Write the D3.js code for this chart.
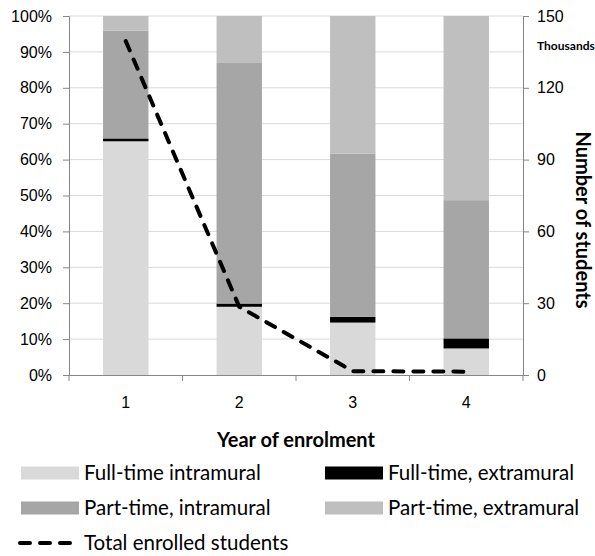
<!DOCTYPE html>
<html>
<head>
<meta charset="utf-8">
<script src="https://cdn.jsdelivr.net/npm/d3@7.9.0/dist/d3.min.js"></script>
<style>
  body { margin: 0; background: #fff; }
  svg { display: block; font-family: Lato, "Open Sans", sans-serif; }
  .axis path, .axis line { stroke: #868686; }
  .axis text { fill: #000; font-size: 16px; }
</style>
</head>
<body>
<div id="chart"></div>
<script>
// Data
const years = ['1', '2', '3', '4'];
const seriesNames = ['Full-time intramural', 'Full-time, extramural', 'Part-time, intramural', 'Part-time, extramural'];
const fullTimeIntra = [65.1, 19.0, 14.6, 7.4];
const fullTimeExtra = [0.8, 0.9, 1.6, 2.8];
const partTimeIntra = [30.0, 67.2, 45.5, 38.5];
const partTimeExtra = [4.1, 12.9, 38.3, 51.3];
const totalStudents = [139.5, 28.5, 1.6, 1.4]; // thousands
const pctTicks = [0, 10, 20, 30, 40, 50, 60, 70, 80, 90, 100];
const countTicks = [0, 30, 60, 90, 120, 150];

const colors = ['#d9d9d9', '#000000', '#a6a6a6', '#bfbfbf'];

const W = 595, H = 556;
const margin = { top: 16, right: 72, bottom: 181, left: 69 };
const width = W - margin.left - margin.right;
const height = H - margin.top - margin.bottom;

const svg = d3.select('#chart').append('svg')
  .attr('width', W)
  .attr('height', H);

const g = svg.append('g')
  .attr('transform', `translate(${margin.left},${margin.top})`);

const x = d3.scaleBand()
  .domain(years)
  .range([0, width])
  .paddingInner(0.6)
  .paddingOuter(0.3);

const yPct = d3.scaleLinear().domain([0, 100]).range([height, 0]);
const yCount = d3.scaleLinear().domain([0, 150]).range([height, 0]);

// Gridlines
g.append('g')
  .selectAll('line')
  .data(pctTicks.filter(d => d > 0))
  .join('line')
  .attr('x1', 0)
  .attr('x2', width)
  .attr('y1', d => yPct(d))
  .attr('y2', d => yPct(d))
  .attr('stroke', '#d9d9d9')
  .attr('stroke-width', 1);

// Stacked bars
const rows = years.map((yr, i) => ({
  year: yr,
  s0: fullTimeIntra[i],
  s1: fullTimeExtra[i],
  s2: partTimeIntra[i],
  s3: partTimeExtra[i]
}));
const stack = d3.stack().keys(['s0', 's1', 's2', 's3'])(rows);

g.append('g')
  .selectAll('g')
  .data(stack)
  .join('g')
  .attr('fill', (d, i) => colors[i])
  .selectAll('rect')
  .data(d => d)
  .join('rect')
  .attr('x', d => x(d.data.year))
  .attr('width', x.bandwidth())
  .attr('y', d => yPct(d[1]))
  .attr('height', d => yPct(d[0]) - yPct(d[1]));

// Left axis
g.append('g')
  .attr('class', 'axis')
  .call(d3.axisLeft(yPct).tickValues(pctTicks).tickSize(6).tickPadding(11).tickFormat(d => d + '%'))
  .call(a => a.select('.domain').attr('d', `M-6,0.5H0.5V${height}`));

// Right axis
g.append('g')
  .attr('class', 'axis')
  .attr('transform', `translate(${width},0)`)
  .call(d3.axisRight(yCount).tickValues(countTicks).tickSize(6).tickPadding(8))
  .call(a => a.select('.domain').attr('d', `M6,0.5H0.5V${height}`));

// Bottom axis: labels at category centres, ticks at boundaries
const xAxis = g.append('g')
  .attr('class', 'axis')
  .attr('transform', `translate(0,${height})`)
  .call(d3.axisBottom(x).tickSize(0).tickPadding(22));
xAxis.select('.domain').attr('d', `M0,0.5H${width}`);
const boundaries = years.map(yr => x(yr) - x.step() * x.paddingInner() / 2).concat([width]);
xAxis.selectAll('.boundary')
  .data(boundaries)
  .join('line')
  .attr('class', 'boundary')
  .attr('x1', d => d).attr('x2', d => d)
  .attr('y1', 0).attr('y2', 6);

// Total enrolled line
const line = d3.line()
  .x((d, i) => x(years[i]) + x.bandwidth() / 2)
  .y(d => yCount(d));

g.append('path')
  .datum(totalStudents)
  .attr('d', line)
  .attr('fill', 'none')
  .attr('stroke', '#000')
  .attr('stroke-width', 4)
  .attr('stroke-dasharray', '10,10')
  .attr('stroke-linecap', 'round');

// Axis titles
svg.append('text')
  .attr('x', margin.left + width / 2)
  .attr('y', 440)
  .attr('dy', '0.35em')
  .attr('text-anchor', 'middle')
  .attr('font-weight', 'bold')
  .attr('font-size', 20)
  .text('Year of enrolment');

svg.append('text')
  .attr('transform', `translate(583,220) rotate(90)`)
  .attr('dy', '0.35em')
  .attr('text-anchor', 'middle')
  .attr('font-weight', 'bold')
  .attr('font-size', 20)
  .text('Number of students');

svg.append('text')
  .attr('x', 537)
  .attr('y', 46)
  .attr('dy', '0.35em')
  .attr('font-weight', 'bold')
  .attr('font-size', 12)
  .text('Thousands');

// Legend
const legendItems = [
  { name: seriesNames[0], color: colors[0], x: 21, y: 473 },
  { name: seriesNames[1], color: colors[1], x: 325, y: 473 },
  { name: seriesNames[2], color: colors[2], x: 21, y: 508 },
  { name: seriesNames[3], color: colors[3], x: 325, y: 508 }
];

const legend = svg.append('g').attr('font-size', 20.5);

const item = legend.selectAll('g')
  .data(legendItems)
  .join('g')
  .attr('transform', d => `translate(${d.x},${d.y})`);

item.append('rect')
  .attr('x', 0)
  .attr('y', -6.5)
  .attr('width', 58)
  .attr('height', 13)
  .attr('fill', d => d.color);

item.append('text')
  .attr('x', 63)
  .attr('dy', '0.35em')
  .text(d => d.name);

const lineItem = legend.append('g').attr('transform', 'translate(0,543)');
lineItem.append('line')
  .attr('x1', 20).attr('x2', 72)
  .attr('stroke', '#000')
  .attr('stroke-width', 4)
  .attr('stroke-dasharray', '10,10')
  .attr('stroke-linecap', 'round');
lineItem.append('text')
  .attr('x', 84)
  .attr('dy', '0.35em')
  .text('Total enrolled students');
</script>
</body>
</html>
